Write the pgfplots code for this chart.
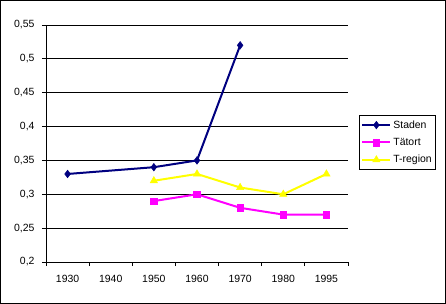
\documentclass[border=0pt]{standalone}
\usepackage{pgfplots}
\pgfplotsset{compat=1.18}
\usepackage{fontspec}
\setmainfont{Liberation Sans}
\definecolor{staden}{RGB}{0,0,128}
\definecolor{tatort}{RGB}{255,0,255}
\definecolor{tregion}{RGB}{255,255,0}
\begin{document}
\begin{tikzpicture}
\useasboundingbox (0,0) rectangle (446bp,304bp);
\fill[white] (0,0) rectangle (446bp,304bp);
\begin{axis}[
  at={(46bp,42bp)}, anchor=south west,
  scale only axis, width=302bp, height=237bp,
  xmin=-0.5, xmax=6.5, ymin=0.2, ymax=0.55,
  axis x line*=bottom, axis y line*=left,
  axis line style={black, line width=1bp, -},
  xtick={0,...,6},
  xticklabels={1930,1940,1950,1960,1970,1980,1995},
  minor xtick={-0.5,0.5,...,6.5},
  major x tick style={draw=none},
  minor x tick style={black, line width=1bp},
  minor tick length=4bp,
  ytick={0.2,0.25,...,0.56},
  major tick length=4bp,
  tick align=outside,
  y tick style={black, line width=1bp},
  ymajorgrids, grid style={black, line width=1bp},
  /pgf/number format/use comma,
  /pgf/number format/fixed,
  /pgf/number format/precision=2,
  /pgf/number format/assume math mode=true,
  yticklabel style={font=\fontsize{10.5}{12}\selectfont, xshift=-4bp},
  xticklabel style={font=\fontsize{10.5}{12}\selectfont, yshift=-6bp},
  legend style={at={(1.036,0.62)}, anchor=north west, draw=black, line width=1bp,
    font=\fontsize{10.5}{12}\selectfont, inner xsep=2bp, inner ysep=3bp, row sep=4.5bp,
    /tikz/every even column/.append style={column sep=1bp}},
  legend cell align=left,
  legend image code/.code={
    \draw[#1, line width=2bp] (0bp,0bp) -- (28bp,0bp);
    \draw[#1, only marks] plot coordinates {(14bp,0bp)};
  },
]
\addplot[staden, line width=2bp, mark=diamond*, mark size=3.8bp, mark options={solid, fill=staden, line width=0.5bp}]
  coordinates {(0,0.33) (2,0.34) (3,0.35) (4,0.52)};
\addlegendentry{Staden}
\addplot[tatort, line width=2bp, mark=square*, mark size=3.3bp, mark options={solid, fill=tatort, line width=0.5bp}]
  coordinates {(2,0.29) (3,0.30) (4,0.28) (5,0.27) (6,0.27)};
\addlegendentry{Tätort}
\addplot[tregion, line width=2bp, mark=triangle*, mark size=4.2bp, mark options={solid, fill=tregion, line width=0.5bp}]
  coordinates {(2,0.32) (3,0.33) (4,0.31) (5,0.30) (6,0.33)};
\addlegendentry{T-region}
\end{axis}
\draw[black, line width=1bp] (0.5bp,0.5bp) rectangle (445.5bp,303.5bp);
\end{tikzpicture}
\end{document}
